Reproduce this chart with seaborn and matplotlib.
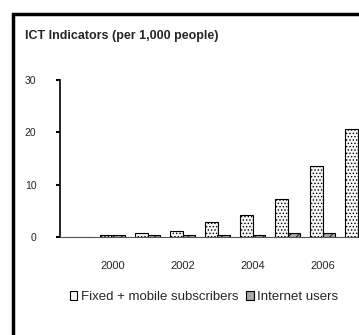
import matplotlib
matplotlib.use('Agg')
import matplotlib.pyplot as plt
import seaborn as sns
import pandas as pd
from matplotlib.patches import Rectangle

# Chart data
years = ['1999', '2000', '2001', '2002', '2003', '2004', '2005', '2006', '2007']
fixed_mobile = [0.0, 0.4, 0.8, 1.2, 2.9, 4.2, 7.2, 13.5, 20.7]
internet_users = [0.0, 0.3, 0.3, 0.4, 0.3, 0.4, 0.7, 0.8, 1.2]
series_names = ['Fixed + mobile subscribers', 'Internet users']
shown_years = ['2000', '2002', '2004', '2006']
y_ticks = [0, 10, 20, 30]

df = pd.DataFrame({'year': years, series_names[0]: fixed_mobile, series_names[1]: internet_users})
long_df = df.melt(id_vars='year', var_name='series', value_name='value')

sns.set_style('white')
plt.rcParams['font.family'] = ['Liberation Sans', 'DejaVu Sans']
plt.rcParams['hatch.color'] = '#c8c8c8'
plt.rcParams['hatch.linewidth'] = 0.6

fig = plt.figure(figsize=(3.59, 3.35), dpi=100)
ax = fig.add_axes([60 / 359, 98 / 335, 315 / 359, 157 / 335])

palette = {series_names[0]: '#f7f7f7', series_names[1]: '#a8a8a8'}
sns.barplot(data=long_df, x='year', y='value', hue='series', order=years,
            hue_order=series_names, palette=palette, width=0.72,
            edgecolor='black', linewidth=0.8, saturation=1, ax=ax)

# stipple the bars like the scanned original
n = len(years)
for i, bar in enumerate(ax.patches[:2 * n]):
    bar.set_hatch('.....' if i < n else '////')

ax.set_ylim(0, 30)
ax.set_xlim(-0.5, n - 0.5)
ax.set_yticks(y_ticks)
ax.set_yticklabels([str(t) for t in y_ticks], fontsize=7.5)
ax.set_xticks([years.index(y) for y in shown_years])
ax.set_xticklabels(shown_years, fontsize=8)
ax.set_xticks([i - 0.5 for i in range(n + 1)], minor=True)
ax.tick_params(axis='x', which='major', length=0, pad=17)
ax.tick_params(axis='x', which='minor', length=2.5, width=0.8, direction='out', color='black')
ax.tick_params(axis='y', length=3, width=1.5, direction='out', color='black', pad=14, left=True)
ax.set_xlabel('')
ax.set_ylabel('')
for side in ['top', 'right']:
    ax.spines[side].set_visible(False)
ax.spines['left'].set_color('black')
ax.spines['left'].set_linewidth(1.2)
ax.spines['bottom'].set_color('#555555')
ax.spines['bottom'].set_linewidth(0.8)
ax.spines['bottom'].set_linestyle((0, (1, 1)))

handles, labels = ax.get_legend_handles_labels()
ax.legend(handles, labels, loc='center', bbox_to_anchor=(204 / 359, 38 / 335),
          bbox_transform=fig.transFigure, ncol=2, frameon=False, fontsize=9.5,
          handlelength=0.6, handleheight=0.6, handletextpad=0.25, columnspacing=0.6)

fig.text(25 / 359, 1 - 36 / 335, 'ICT Indicators (per 1,000 people)',
         fontsize=9, fontweight='bold', va='center', ha='left')

# outer frame of the scanned box (runs off the right and bottom edges)
fig.patches.append(Rectangle((13 / 359, -0.05), 1.2, 1 - 14 / 335 + 0.05,
                             transform=fig.transFigure, fill=False,
                             edgecolor='black', linewidth=2.5))

fig.savefig('out.png', dpi=100)
